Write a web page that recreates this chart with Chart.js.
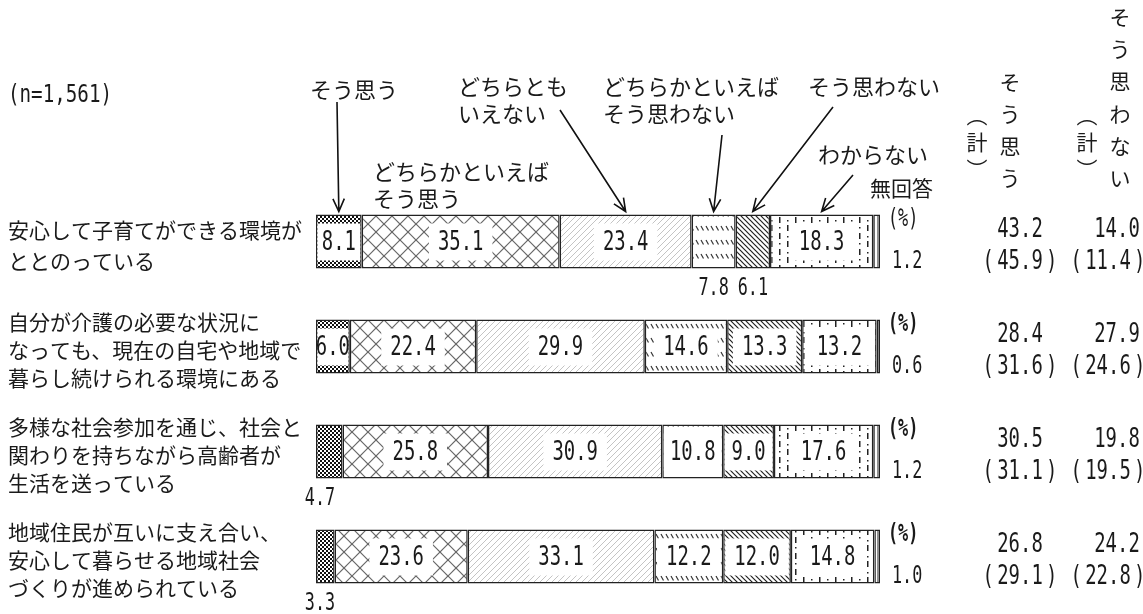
<!DOCTYPE html>
<html>
<head>
<meta charset="utf-8">
<script src="https://cdn.jsdelivr.net/npm/chart.js@4.4.1/dist/chart.umd.min.js"></script>
<style>
  body { margin: 0; background: #fff; }
  canvas { display: block; }
</style>
</head>
<body>
<canvas id="c" width="1143" height="614"></canvas>
<script>
// データ
const categories = [
    ['安心して子育てができる環境が', 'ととのっている'],
    ['自分が介護の必要な状況に', 'なっても、現在の自宅や地域で', '暮らし続けられる環境にある'],
    ['多様な社会参加を通じ、社会と', '関わりを持ちながら高齢者が', '生活を送っている'],
    ['地域住民が互いに支え合い、', '安心して暮らせる地域社会', 'づくりが進められている']
];
const seriesNames = ['そう思う', 'どちらかといえばそう思う', 'どちらともいえない',
    'どちらかといえばそう思わない', 'そう思わない', 'わからない', '無回答'];
const agree = [8.1, 6.0, 4.7, 3.3];
const ratherAgree = [35.1, 22.4, 25.8, 23.6];
const neither = [23.4, 29.9, 30.9, 33.1];
const ratherDisagree = [7.8, 14.6, 10.8, 12.2];
const disagree = [6.1, 13.3, 9.0, 12.0];
const dontKnow = [18.3, 13.2, 17.6, 14.8];
const noAnswer = [1.2, 0.6, 1.2, 1.0];
const agreeTotal = [43.2, 28.4, 30.5, 26.8];
const agreePrev = [45.9, 31.6, 31.1, 29.1];
const disagreeTotal = [14.0, 27.9, 19.8, 24.2];
const disagreePrev = [11.4, 24.6, 19.5, 22.8];
const sampleLabel = '(n=1,561)';

const series = [agree, ratherAgree, neither, ratherDisagree, disagree, dontKnow, noAnswer];
// バーの下に出すラベル (行-系列)
const belowLabels = ['0-3', '0-4', '2-0', '3-0'];

const JP = '"Noto Sans CJK JP", "Noto Sans", sans-serif';
const INK = '#1a1a1a';

function makePattern(w, h, draw) {
    const c = document.createElement('canvas');
    c.width = w; c.height = h;
    const g = c.getContext('2d');
    g.fillStyle = '#fff';
    g.fillRect(0, 0, w, h);
    draw(g);
    return g.createPattern(c, 'repeat');
}
function seg(g, x1, y1, x2, y2) { g.beginPath(); g.moveTo(x1, y1); g.lineTo(x2, y2); g.stroke(); }

const patterns = [
    makePattern(4, 4, g => { g.fillStyle = '#111'; g.fillRect(0, 0, 2, 2); g.fillRect(2, 2, 2, 2); }),
    makePattern(16, 16, g => {
        g.strokeStyle = '#666'; g.lineWidth = 1.2;
        seg(g, 0, 0, 16, 16); seg(g, 16, 0, 0, 16);
    }),
    makePattern(6, 6, g => {
        g.strokeStyle = '#c4c4c4'; g.lineWidth = 1;
        seg(g, 0, 6, 6, 0); seg(g, -1, 1, 1, -1); seg(g, 5, 7, 7, 5);
    }),
    makePattern(5, 14, g => {
        g.strokeStyle = '#333'; g.lineWidth = 1.2;
        seg(g, 1, 2, 3.5, 6.5);
    }),
    makePattern(5, 5, g => {
        g.strokeStyle = '#222'; g.lineWidth = 1.2;
        seg(g, 0, 0, 5, 5); seg(g, -1, 4, 1, 6); seg(g, 4, -1, 6, 1);
    }),
    makePattern(16, 16, g => {
        g.fillStyle = '#222';
        g.fillRect(3, 1, 1.5, 6);
        g.fillRect(11, 9, 1.5, 6);
        g.fillRect(11, 3, 1.5, 1.5);
        g.fillRect(3, 12, 1.5, 1.5);
    }),
    makePattern(4, 4, g => { g.fillStyle = '#222'; g.fillRect(1.5, 0, 1, 4); })
];

function mono(ctx, text, x, y, size, sx, align, bold) {
    ctx.save();
    ctx.font = (bold ? 'bold ' : '') + size + 'px "DejaVu Sans Mono", monospace';
    ctx.textBaseline = 'middle';
    ctx.textAlign = align || 'center';
    ctx.fillStyle = INK;
    const w = ctx.measureText(text).width * sx;
    ctx.translate(x, y);
    ctx.scale(sx, 1);
    ctx.fillText(text, 0, 0);
    ctx.restore();
    return w;
}
function monoWidth(ctx, text, size, sx) {
    ctx.save();
    ctx.font = size + 'px "DejaVu Sans Mono", monospace';
    const w = ctx.measureText(text).width * sx;
    ctx.restore();
    return w;
}
function jp(ctx, text, x, y, size, align) {
    ctx.save();
    ctx.font = size + 'px ' + JP;
    ctx.textBaseline = 'middle';
    ctx.textAlign = align || 'left';
    ctx.fillStyle = INK;
    ctx.fillText(text, x, y);
    ctx.restore();
}
function parenNum(ctx, num, cx, y) {
    const t = num.toFixed(1);
    const w = monoWidth(ctx, t, 27, 0.7);
    mono(ctx, t, cx, y, 27, 0.7, 'center');
    mono(ctx, '(', cx - w / 2 - 9, y, 27, 0.7, 'center');
    mono(ctx, ')', cx + w / 2 + 9, y, 27, 0.7, 'center');
}
function arrow(ctx, x1, y1, x2, y2) {
    const a = Math.atan2(y2 - y1, x2 - x1);
    const L = 14, s = 0.42;
    ctx.save();
    ctx.strokeStyle = '#111';
    ctx.lineWidth = 1.6;
    ctx.beginPath();
    ctx.moveTo(x1, y1); ctx.lineTo(x2, y2);
    ctx.moveTo(x2 - L * Math.cos(a - s), y2 - L * Math.sin(a - s));
    ctx.lineTo(x2, y2);
    ctx.lineTo(x2 - L * Math.cos(a + s), y2 - L * Math.sin(a + s));
    ctx.stroke();
    ctx.restore();
}
function vertical(ctx, chars, x, yStart, step) {
    chars.forEach((ch, i) => jp(ctx, ch, x, yStart + i * step, 21, 'center'));
}

const labelPlugin = {
    id: 'labels',
    afterDatasetsDraw(chart) {
        const ctx = chart.ctx;
        const last = series.length - 1;
        series.forEach((vals, d) => {
            const meta = chart.getDatasetMeta(d);
            meta.data.forEach((el, i) => {
                const p = el.getProps(['x', 'base', 'y', 'height'], true);
                const left = Math.min(p.x, p.base), right = Math.max(p.x, p.base);
                const cx = (left + right) / 2;
                const top = p.y - p.height / 2, bottom = p.y + p.height / 2;
                const t = vals[i].toFixed(1);
                if (d === last) {
                    mono(ctx, t, right + 12, bottom - 7, 24, 0.7, 'left');
                    mono(ctx, '(%)', right + 8, top + 5, 24, 0.7, 'left', i > 0);
                    return;
                }
                if (belowLabels.includes(i + '-' + d)) {
                    const x = d === 0 ? chart.chartArea.left + 4 : cx;
                    mono(ctx, t, x, bottom + 20, 24, 0.7, 'center');
                    return;
                }
                const tw = monoWidth(ctx, t, 27, 0.7);
                const bw = Math.min(tw + 18, right - left - 3);
                ctx.fillStyle = '#fff';
                ctx.fillRect(cx - bw / 2, p.y - 18, bw, 37);
                mono(ctx, t, cx, p.y + 1, 27, 0.7, 'center');
            });
        });
    },
    afterDraw(chart) {
        const ctx = chart.ctx;
        const yMeta = chart.getDatasetMeta(0);

        // 左の項目名
        yMeta.data.forEach((el, i) => {
            const lines = categories[i];
            const step = lines.length === 2 ? 31 : 28;
            const y0 = el.y - (lines.length - 1) * step / 2 + 4;
            lines.forEach((ln, k) => jp(ctx, ln, 8, y0 + k * step, 21));
            // 右側の計
            mono(ctx, agreeTotal[i].toFixed(1), 1020, el.y - 12, 27, 0.7);
            parenNum(ctx, agreePrev[i], 1020, el.y + 20);
            mono(ctx, disagreeTotal[i].toFixed(1), 1117, el.y - 12, 27, 0.7);
            parenNum(ctx, disagreePrev[i], 1108, el.y + 20);
        });

        mono(ctx, sampleLabel, 8, 96, 24, 0.8, 'left');

        // 見出し (縦書き)
        vertical(ctx, ['そ', 'う', '思', 'う'], 1010, 82, 32);
        vertical(ctx, ['︵', '計', '︶'], 977, 115, 27);
        vertical(ctx, ['そ', 'う', '思', 'わ', 'な', 'い'], 1120, 17, 32.2);
        vertical(ctx, ['︵', '計', '︶'], 1087, 115, 27);

        // 凡例の注記と矢印
        jp(ctx, 'そう思う', 310, 90, 22);
        jp(ctx, 'どちらかといえば', 373, 172, 22);
        jp(ctx, 'そう思う', 373, 199, 22);
        jp(ctx, 'どちらとも', 458, 87, 22);
        jp(ctx, 'いえない', 458, 114, 22);
        jp(ctx, 'どちらかといえば', 603, 87, 22);
        jp(ctx, 'そう思わない', 603, 114, 22);
        jp(ctx, 'そう思わない', 808, 87, 22);
        jp(ctx, 'わからない', 818, 155, 22);
        jp(ctx, '無回答', 870, 188, 21);

        const tip = d => {
            const el = chart.getDatasetMeta(d).data[0];
            const p = el.getProps(['x', 'base', 'y', 'height'], true);
            return [(p.x + p.base) / 2, p.y - p.height / 2 - 3];
        };
        const tails = [[0, 337, 102], [2, 560, 110], [3, 722, 135], [4, 833, 107], [5, 853, 175]];
        tails.forEach(([d, x, y]) => {
            const [tx, ty] = tip(d);
            arrow(ctx, x, y, tx, ty);
        });
    }
};

new Chart(document.getElementById('c').getContext('2d'), {
    type: 'bar',
    data: {
        labels: categories.map(c => c.join('')),
        datasets: seriesNames.map((name, k) => ({
            label: name,
            data: series[k],
            backgroundColor: patterns[k],
            borderColor: '#222',
            borderWidth: 1.5,
            borderSkipped: false,
            barPercentage: 0.514,
            categoryPercentage: 1
        }))
    },
    options: {
        indexAxis: 'y',
        responsive: false,
        animation: false,
        layout: { padding: { left: 316, right: 263, top: 189, bottom: 5 } },
        scales: {
            x: { stacked: true, min: 0, max: 100, display: false },
            y: { stacked: true, display: false }
        },
        plugins: { legend: { display: false }, tooltip: { enabled: false } }
    },
    plugins: [labelPlugin]
});
</script>
</body>
</html>
